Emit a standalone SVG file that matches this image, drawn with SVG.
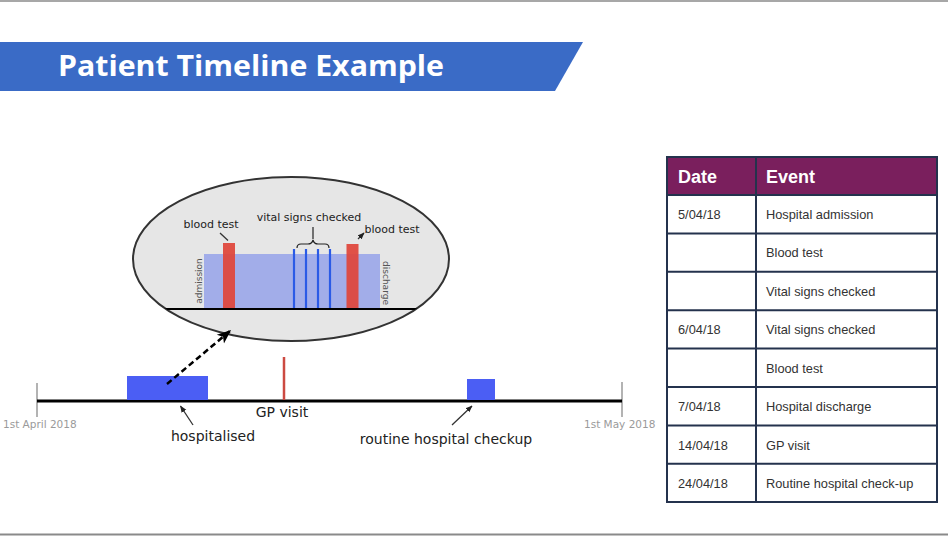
<svg xmlns="http://www.w3.org/2000/svg" width="948" height="536" viewBox="0 0 948 536">
  <defs>
    <style>
      .tl { font-family: "DejaVu Sans", Verdana, sans-serif; fill: #222; }
      .lbl14 { font-size: 14px; }
      .lbl11 { font-size: 11px; }
      .side { font-size: 9px; fill: #555; }
      .date-end { font-family: "DejaVu Sans", Verdana, sans-serif; font-size: 10.5px; fill: #9a9a9a; }
      .tick { stroke: #9a9a9a; stroke-width: 1.5; }
      .axis { stroke: #000; stroke-width: 3; }
      .cell { font-family: "Liberation Sans", Arial, sans-serif; font-size: 12.8px; fill: #333; }
      .head { font-family: "Liberation Sans", Arial, sans-serif; font-size: 18px; font-weight: bold; fill: #fff; }
      .grid { stroke: #24324d; stroke-width: 2; fill: none; }
      .ptr { stroke: #333; stroke-width: 1.3; fill: none; }
      .vital { stroke: #2b5ae6; stroke-width: 2.2; }
      .redbar { fill: #e0443a; opacity: 0.92; }
    </style>
    <marker id="headSmall" viewBox="0 0 10 10" refX="9" refY="5" markerWidth="7" markerHeight="7" orient="auto" markerUnits="userSpaceOnUse">
      <path d="M0,1 L10,5 L0,9 z" fill="#222"/>
    </marker>
    <marker id="headBig" viewBox="0 0 10 10" refX="9" refY="5" markerWidth="14" markerHeight="14" orient="auto" markerUnits="userSpaceOnUse">
      <path d="M0,1 L10,5 L0,9 L2.5,5 z" fill="#000"/>
    </marker>
    <clipPath id="ovalClip">
      <ellipse cx="291" cy="259" rx="158" ry="82"/>
    </clipPath>
  </defs>

  <rect width="948" height="536" fill="#fff"/>
  <!-- page frame lines -->
  <line x1="0" y1="1" x2="948" y2="1" stroke="#8a8a8a" stroke-width="1.5"/>
  <line x1="0" y1="534.5" x2="948" y2="534.5" stroke="#8a8a8a" stroke-width="2"/>

  <!-- title banner -->
  <g id="title">
    <polygon points="0,42 583,42 555,91 0,91" fill="#3a6bc6"/>
    <text x="58" y="76" font-family="'Open Sans', 'Liberation Sans', sans-serif" font-size="29" font-weight="bold" fill="#fff" textLength="386" lengthAdjust="spacingAndGlyphs">Patient Timeline Example</text>
  </g>

  <!-- zoomed-in view of the hospital stay -->
  <g id="detail-oval">
    <ellipse cx="291" cy="259" rx="158" ry="82" fill="#e6e6e6" stroke="#333" stroke-width="2"/>
    <g clip-path="url(#ovalClip)">
      <line x1="130" y1="309" x2="450" y2="309" stroke="#000" stroke-width="2.2"/>
    </g>
    <rect x="204" y="254" width="176" height="54" fill="#a2ade9"/>
    <rect class="redbar" x="223" y="243" width="12" height="65"/>
    <rect class="redbar" x="346.5" y="244" width="12" height="64"/>
    <line class="vital" x1="294" y1="249" x2="294" y2="308"/>
    <line class="vital" x1="306" y1="249" x2="306" y2="308"/>
    <line class="vital" x1="318" y1="249" x2="318" y2="308"/>
    <line class="vital" x1="330" y1="249" x2="330" y2="308"/>
    <text class="tl side" transform="translate(202,281) rotate(-90)" text-anchor="middle">admission</text>
    <text class="tl side" transform="translate(383,283) rotate(90)" text-anchor="middle">discharge</text>
    <text class="tl lbl11" x="211" y="228" text-anchor="middle">blood test</text>
    <text class="tl lbl11" x="392" y="233" text-anchor="middle">blood test</text>
    <text class="tl lbl11" x="309" y="221" text-anchor="middle">vital signs checked</text>
    <path d="M297,248 q0,-4 4,-4 h7 q4,0 5,-4 q1,4 5,4 h7 q4,0 4,4" fill="none" stroke="#222" stroke-width="1.2"/>
  </g>

  <!-- main one-month timeline -->
  <g id="timeline">
    <line class="tick" x1="37" y1="383" x2="37" y2="417"/>
    <line class="tick" x1="622" y1="382" x2="622" y2="417"/>
    <line class="axis" x1="37" y1="401" x2="622" y2="401"/>
    <text class="date-end" x="3" y="428">1st April 2018</text>
    <text class="date-end" x="584" y="428">1st May 2018</text>
  </g>

  <g id="hospitalised">
    <rect x="127" y="376" width="81" height="24" fill="#4b5ef4"/>
    <text class="tl lbl14" x="213" y="441" text-anchor="middle">hospitalised</text>
  </g>

  <g id="gp-visit">
    <line x1="284" y1="357" x2="284" y2="400" stroke="#cc4a42" stroke-width="2.5"/>
    <text class="tl lbl14" x="282" y="417" text-anchor="middle">GP visit</text>
  </g>

  <g id="checkup">
    <rect x="467" y="379" width="28" height="21" fill="#4b5ef4"/>
    <text class="tl lbl14" x="446" y="444" text-anchor="middle">routine hospital checkup</text>
  </g>

  <!-- pointers and the zoom arrow -->
  <g id="connectors">
    <line x1="167" y1="384" x2="230" y2="331" stroke="#000" stroke-width="2.5" stroke-dasharray="6,3.5" marker-end="url(#headBig)"/>
    <line class="ptr" x1="193" y1="425" x2="180.5" y2="406" marker-end="url(#headSmall)"/>
    <line class="ptr" x1="452" y1="425" x2="472" y2="406" marker-end="url(#headSmall)"/>
    <line class="ptr" x1="220" y1="233" x2="228" y2="240.5"/>
    <line class="ptr" x1="358" y1="239" x2="364" y2="233" marker-end="url(#headSmall)"/>
    <line x1="313" y1="227" x2="313" y2="239" stroke="#222" stroke-width="1.2"/>
  </g>

  <!-- event table -->
  <g id="event-table">
    <rect x="667" y="157" width="270" height="38" fill="#7a1f5d"/>
    <text class="head" x="678" y="183">Date</text>
    <text class="head" x="766" y="183">Event</text>
    <rect class="grid" x="667" y="157" width="270" height="345"/>
    <line class="grid" x1="756" y1="157" x2="756" y2="502"/>
    <line class="grid" x1="667" y1="195" x2="937" y2="195"/>
    <line class="grid" x1="667" y1="233.4" x2="937" y2="233.4"/>
    <line class="grid" x1="667" y1="271.8" x2="937" y2="271.8"/>
    <line class="grid" x1="667" y1="310.2" x2="937" y2="310.2"/>
    <line class="grid" x1="667" y1="348.6" x2="937" y2="348.6"/>
    <line class="grid" x1="667" y1="387" x2="937" y2="387"/>
    <line class="grid" x1="667" y1="425.4" x2="937" y2="425.4"/>
    <line class="grid" x1="667" y1="463.8" x2="937" y2="463.8"/>

    <text class="cell" x="678" y="218.5">5/04/18</text>
    <text class="cell" x="766" y="218.5">Hospital admission</text>
    <text class="cell" x="766" y="257">Blood test</text>
    <text class="cell" x="766" y="295.5">Vital signs checked</text>
    <text class="cell" x="678" y="334">6/04/18</text>
    <text class="cell" x="766" y="334">Vital signs checked</text>
    <text class="cell" x="766" y="372.5">Blood test</text>
    <text class="cell" x="678" y="411">7/04/18</text>
    <text class="cell" x="766" y="411">Hospital discharge</text>
    <text class="cell" x="678" y="449.5">14/04/18</text>
    <text class="cell" x="766" y="449.5">GP visit</text>
    <text class="cell" x="678" y="488">24/04/18</text>
    <text class="cell" x="766" y="488">Routine hospital check-up</text>
  </g>
</svg>
